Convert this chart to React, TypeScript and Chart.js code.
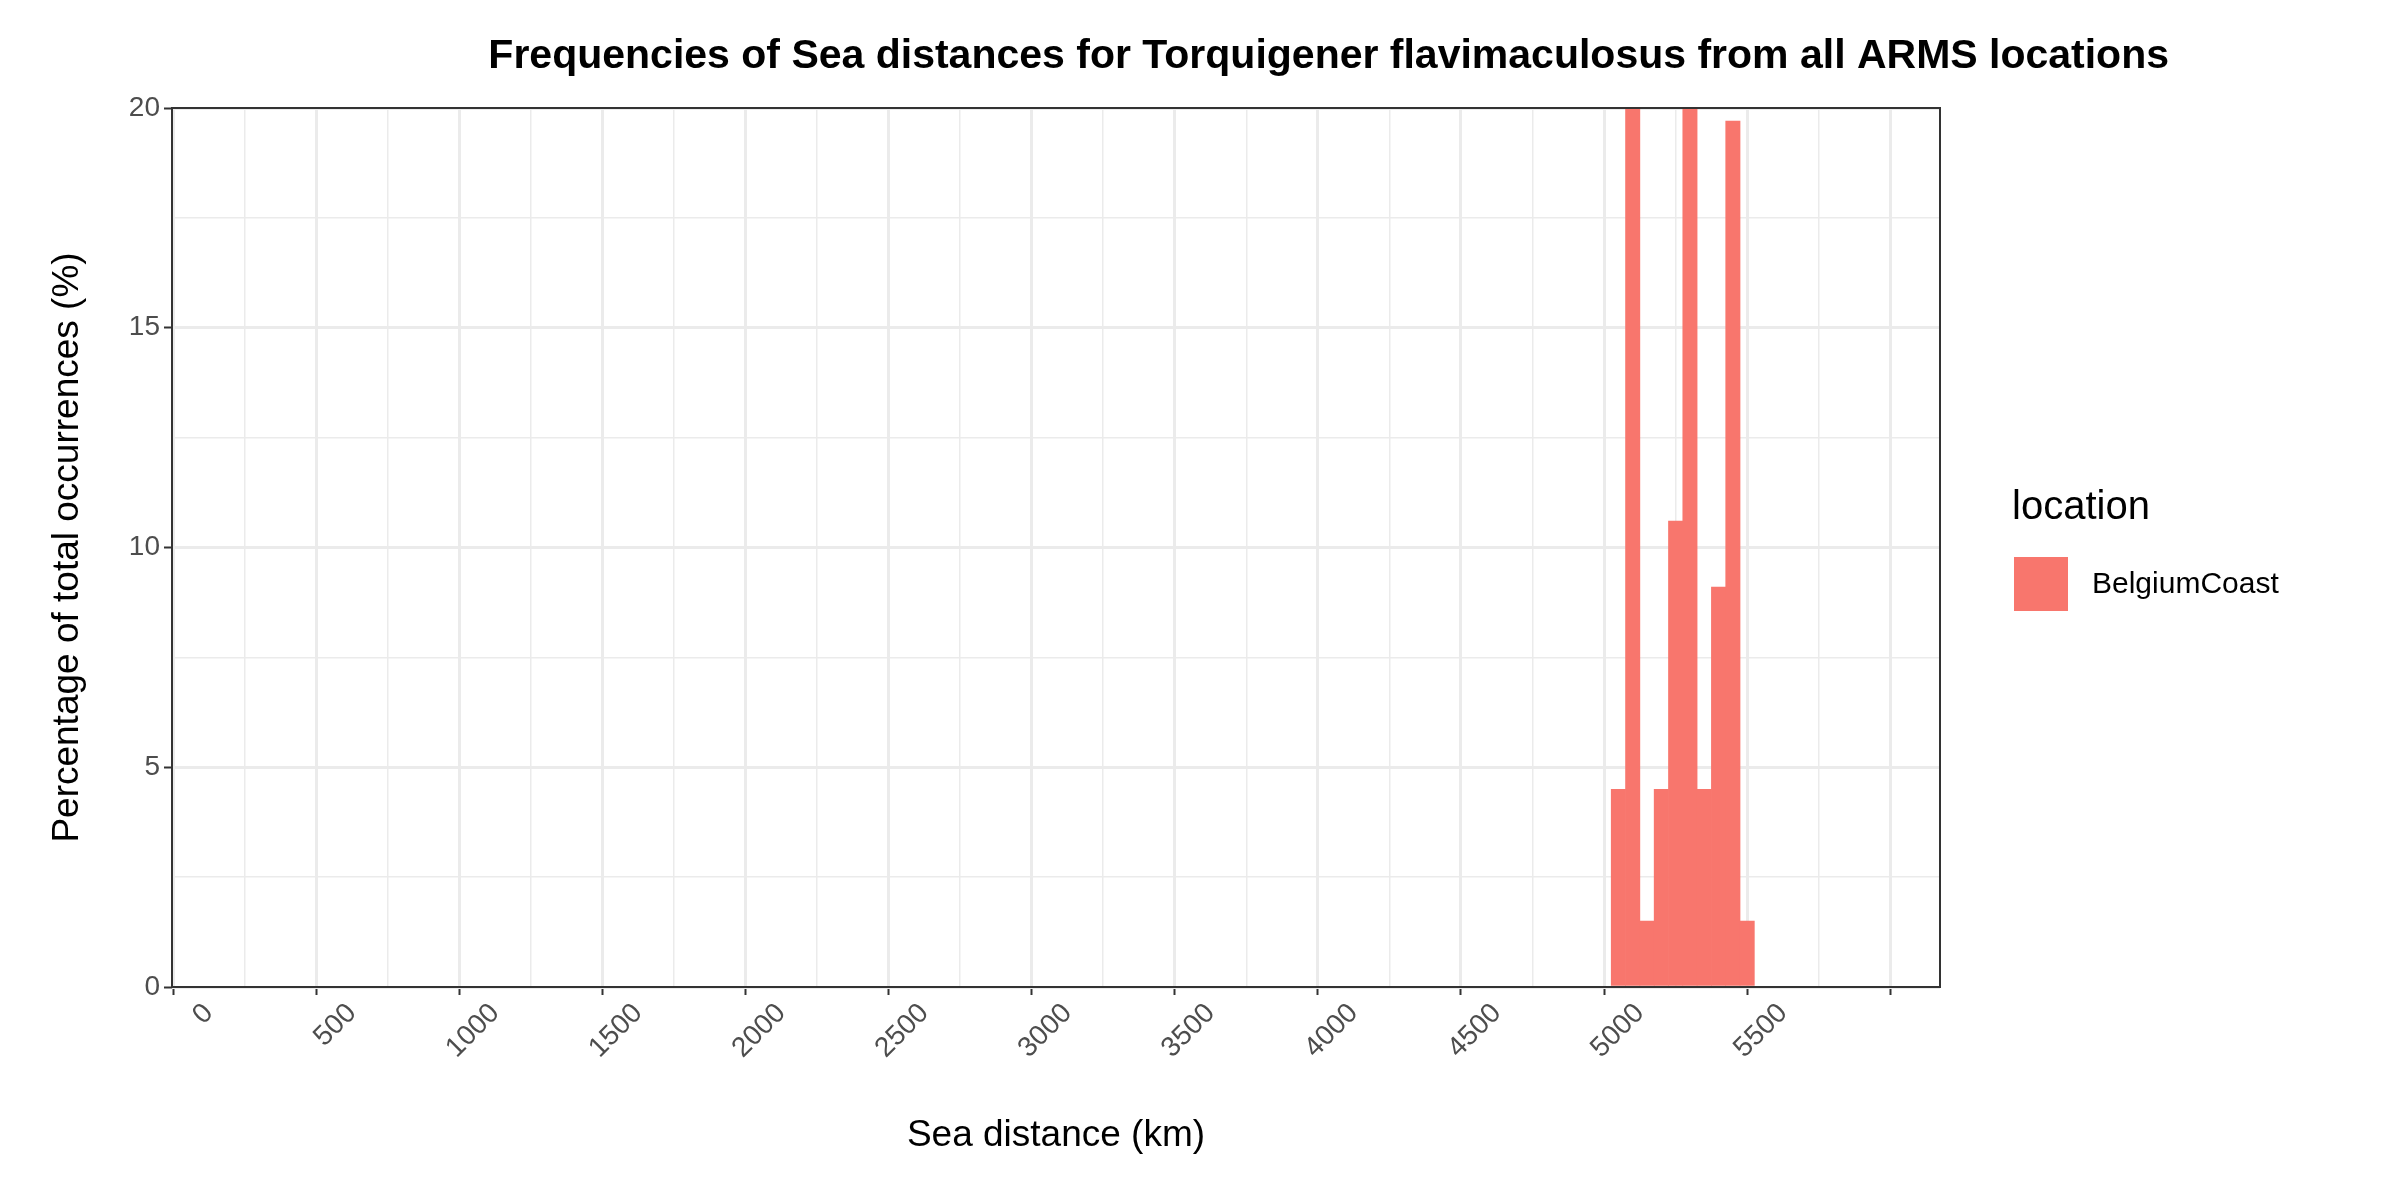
import { useEffect, useRef } from 'react';
import Chart from 'chart.js/auto';

// histogram bins (left edges, km) with 50 km width
const binStarts = [4900, 4950, 5000, 5050, 5100, 5150, 5200, 5250, 5300, 5350];
const binWidth = 50;
// percentage of occurrences per bin (two bins run past the 20% limit)
const percentages = [4.5, 22, 1.5, 4.5, 10.6, 22, 4.5, 9.1, 19.7, 1.5];
const locationName = 'BelgiumCoast';
const titleText = 'Frequencies of Sea distances for Torquigener flavimaculosus from all ARMS locations';

const BAR_COLOR = '#F8766D';
const FONT = 'Liberation Sans, Arial, sans-serif';

const isMajor = (v: number, step: number) => Math.abs(v / step - Math.round(v / step)) < 1e-6;
const tickVal = (c: any) => (c && c.tick ? Number(c.tick.value) : 0);

const decorPlugin = {
  id: 'decor',
  afterDraw(chart: Chart) {
    const { ctx, chartArea } = chart;
    ctx.save();
    // panel border
    ctx.strokeStyle = '#333333';
    ctx.lineWidth = 2;
    ctx.strokeRect(chartArea.left, chartArea.top, chartArea.right - chartArea.left, chartArea.bottom - chartArea.top);
    // title
    ctx.fillStyle = '#000000';
    ctx.font = `bold 41px ${FONT}`;
    ctx.textAlign = 'right';
    ctx.textBaseline = 'middle';
    ctx.fillText(titleText, 2169, 57);
    // legend
    ctx.textAlign = 'left';
    ctx.font = `40px ${FONT}`;
    ctx.fillText('location', 2012, 508);
    ctx.fillStyle = BAR_COLOR;
    ctx.fillRect(2014, 557, 54, 54);
    ctx.fillStyle = '#000000';
    ctx.font = `30px ${FONT}`;
    ctx.fillText(locationName, 2092, 585);
    ctx.restore();
  },
};

const App = () => {
  const canvasRef = useRef<HTMLCanvasElement>(null);

  useEffect(() => {
    if (!canvasRef.current) return;
    const chart = new Chart(canvasRef.current, {
      type: 'bar',
      data: {
        datasets: [
          {
            label: locationName,
            data: binStarts.map((s, i) => ({ x: s + binWidth / 2, y: percentages[i] })),
            backgroundColor: BAR_COLOR,
            barPercentage: 1,
            categoryPercentage: 1,
            borderWidth: 0,
          },
        ],
      },
      options: {
        responsive: false,
        animation: false,
        devicePixelRatio: 1,
        layout: { padding: { top: 108, right: 460, left: 0, bottom: 0 } },
        plugins: { legend: { display: false }, title: { display: false }, tooltip: { enabled: false } },
        scales: {
          x: {
            type: 'linear',
            min: 0,
            max: 5920,
            afterFit: (s: any) => { s.height = 213; },
            afterBuildTicks: (s: any) => {
              const t = [];
              for (let v = 0; v <= 5920; v += 250) t.push({ value: v });
              s.ticks = t;
            },
            border: { display: false },
            grid: {
              color: '#EBEBEB',
              lineWidth: (c: any) => (isMajor(tickVal(c), 500) ? 3 : 1.5),
              tickColor: (c: any) => (isMajor(tickVal(c), 500) ? '#333333' : 'rgba(0,0,0,0)'),
              tickLength: 8,
              tickWidth: 2,
            },
            ticks: {
              autoSkip: false,
              maxRotation: 45,
              minRotation: 45,
              color: '#4D4D4D',
              font: { family: FONT, size: 28 },
              padding: 2,
              callback: (v: any) => (isMajor(Number(v), 500) ? String(v) : ''),
            },
            title: {
              display: true,
              text: 'Sea distance (km)',
              color: '#000000',
              font: { family: FONT, size: 37 },
              padding: { top: 0, bottom: 42 },
            },
          },
          y: {
            min: 0,
            max: 20,
            afterFit: (s: any) => { s.width = 172; },
            afterBuildTicks: (s: any) => {
              const t = [];
              for (let v = 0; v <= 20; v += 2.5) t.push({ value: v });
              s.ticks = t;
            },
            border: { display: false },
            grid: {
              color: '#EBEBEB',
              lineWidth: (c: any) => (isMajor(tickVal(c), 5) ? 3 : 1.5),
              tickColor: (c: any) => (isMajor(tickVal(c), 5) ? '#333333' : 'rgba(0,0,0,0)'),
              tickLength: 8,
              tickWidth: 2,
            },
            ticks: {
              autoSkip: false,
              color: '#4D4D4D',
              font: { family: FONT, size: 28 },
              padding: 4,
              callback: (v: any) => (isMajor(Number(v), 5) ? String(v) : ''),
            },
            title: {
              display: true,
              text: 'Percentage of total occurrences (%)',
              color: '#000000',
              font: { family: FONT, size: 37 },
              padding: { top: 46, bottom: 0 },
            },
          },
        },
      },
      plugins: [decorPlugin],
    });
    return () => chart.destroy();
  }, []);

  return (
    <div style={{ position: 'absolute', left: 0, top: 0, width: 2400, height: 1200, background: '#fff' }}>
      <canvas ref={canvasRef} width={2400} height={1200} />
    </div>
  );
};

export default App;
